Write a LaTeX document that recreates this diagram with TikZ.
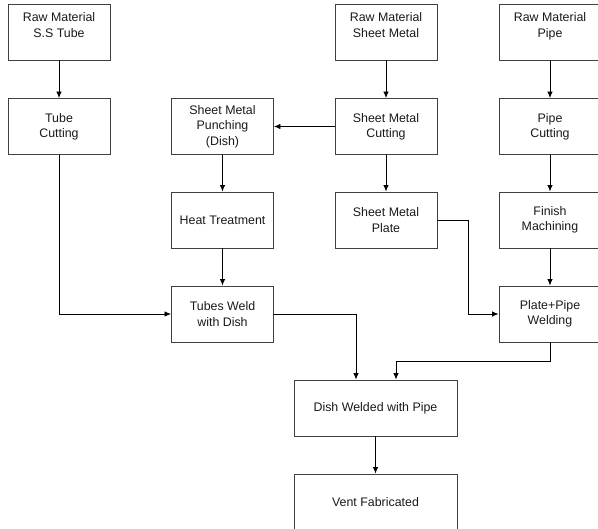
\documentclass[tikz,border=0pt]{standalone}
\usepackage{fontspec}
\setmainfont{Liberation Sans}
\usetikzlibrary{arrows.meta,calc}
\begin{document}
\begin{tikzpicture}[x=1pt,y=-1pt,
  box/.style={draw=black!75,line width=0.9pt,minimum width=102pt,minimum height=56pt,
    inner sep=0pt,align=center,font=\fontsize{12.4}{15.3}\selectfont,text=black!90},
  boxtext/.style={inner sep=0pt,align=center,font=\fontsize{12.4}{15.3}\selectfont,text=black!90},
  widebox/.style={box,minimum width=163pt},
  flow/.style={draw=black,line width=0.8pt,-{Latex[length=6.5pt,width=5.5pt]}}]
\useasboundingbox (0,0) rectangle (598,529);
\clip (0,0) rectangle (598,529);
% column 1
\node[box] (rawTube) at (59,32) {};
\node[boxtext] (rawTubeT) at (59,26.5) {\strut Raw Material\\\strut S.S Tube};
\node[box] (tubeCut) at (59,126.5) {Tube\\Cutting};
% column 2
\node[box] (punch) at (222.5,126.5) {Sheet Metal\\Punching\\(Dish)};
\node[box] (heat) at (222.5,220) {Heat Treatment};
\node[box] (tubesWeld) at (222.5,314) {Tubes Weld\\with Dish};
% column 3
\node[box] (rawSheet) at (386,32) {};
\node[boxtext] (rawSheetT) at (386,26.5) {\strut Raw Material\\\strut Sheet Metal};
\node[box] (sheetCut) at (386,126.5) {Sheet Metal\\Cutting};
\node[box] (sheetPlate) at (386,220) {Sheet Metal\\Plate};
% column 4
\node[box] (rawPipe) at (550,32) {};
\node[boxtext] (rawPipeT) at (550,26.5) {\strut Raw Material\\\strut Pipe};
\node[box] (pipeCut) at (550,126.5) {Pipe\\Cutting};
\node[box] (finish) at (550,220) {Finish\\Machining};
\node[box] (platePipe) at (550,314) {Plate+Pipe\\Welding};
% bottom
\node[widebox] (dishWeld) at (375.5,408) {Dish Welded with Pipe};
\node[widebox] (vent) at (375.5,502) {Vent Fabricated};
% connectors
\draw[flow] (rawTube) -- (tubeCut);
\draw[flow] (tubeCut.south) |- (tubesWeld.west);
\draw[flow] (sheetCut.west) -- (punch.east);
\draw[flow] (punch) -- (heat);
\draw[flow] (heat) -- (tubesWeld);
\draw[flow] (rawSheet) -- (sheetCut);
\draw[flow] (sheetCut) -- (sheetPlate);
\coordinate (mid) at ($(sheetPlate.east)!0.5!(platePipe.west)$);
\draw[flow] (sheetPlate.east) -| (mid |- platePipe.west) -- (platePipe.west);
\draw[flow] (rawPipe) -- (pipeCut);
\draw[flow] (pipeCut) -- (finish);
\draw[flow] (finish) -- (platePipe);
\coordinate (inL) at ([xshift=-19.5pt]dishWeld.north);
\coordinate (inR) at ([xshift=20.5pt]dishWeld.north);
\draw[flow] (tubesWeld.east) -| (inL);
\coordinate (bend) at ($(platePipe.south)+(0,19)$);
\draw[flow] (platePipe.south) -- (bend) -| (inR);
\draw[flow] (dishWeld) -- (vent);
\end{tikzpicture}
\end{document}
